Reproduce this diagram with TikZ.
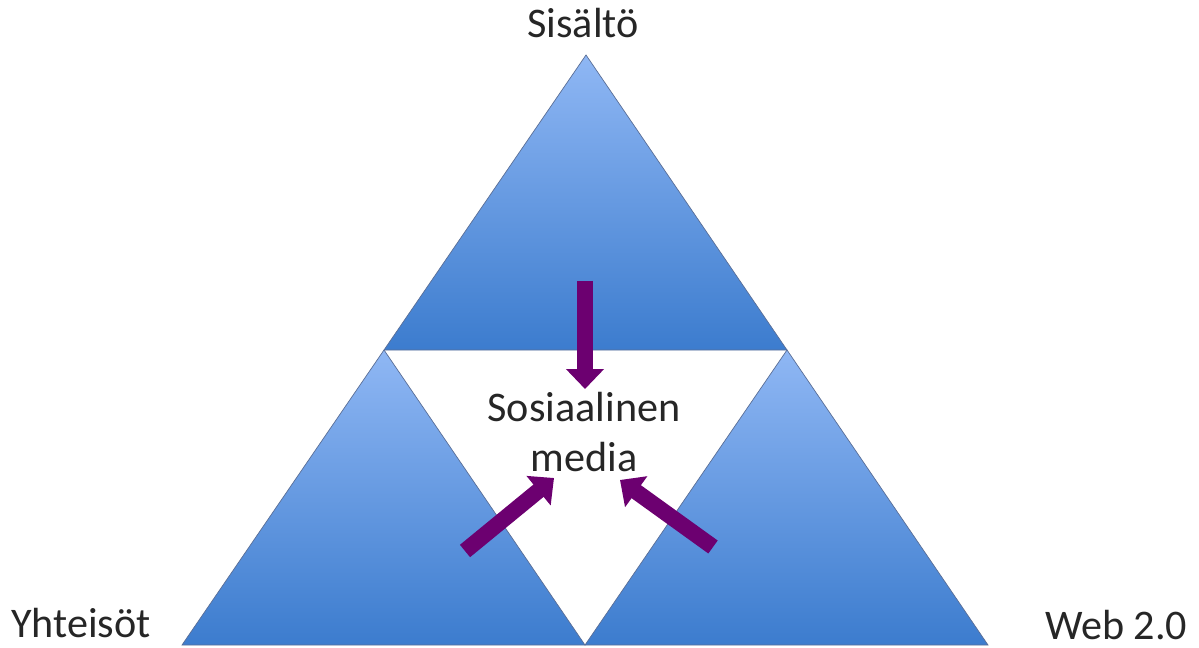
\documentclass[tikz,border=0pt]{standalone}
\usepackage{fontspec}
\setmainfont{Carlito}
\usetikzlibrary{arrows.meta, positioning, calc}

\definecolor{triLight}{RGB}{143,183,244}
\definecolor{triDark}{RGB}{60,124,206}
\definecolor{triEdge}{RGB}{90,110,150}
\definecolor{arrowPurple}{RGB}{108,0,112}

\begin{document}
\begin{tikzpicture}[
		x=0.02cm, y=-0.02cm,
		% Define styles
		tripart/.style={top color=triLight, bottom color=triDark, draw=triEdge, line width=0.4pt},
		cornerlabel/.style={font=\fontsize{24}{26}\selectfont, text=black!85, inner sep=0pt, anchor=base},
		centrelabel/.style={font=\fontsize{24}{24}\selectfont, text=black!85, align=center, inner sep=0pt},
		pusharrow/.style={draw=arrowPurple, line width=0.32cm, -{Triangle[width=0.74cm, length=0.4cm]}}
		]
		\useasboundingbox (0,0) rectangle (1199,648);
		
		% Corner points of the big triangle
		\coordinate (apex) at (586,55);
		\coordinate (baseL) at (182,645);
		\coordinate (baseR) at (988,645);
		\coordinate (midL) at ($(apex)!0.5!(baseL)$);
		\coordinate (midR) at ($(apex)!0.5!(baseR)$);
		\coordinate (midB) at ($(baseL)!0.5!(baseR)$);
		
		% Three blue triangles
		\shade[tripart] (apex) -- (midR) -- (midL) -- cycle;
		\shade[tripart] (midL) -- (midB) -- (baseL) -- cycle;
		\shade[tripart] (midR) -- (baseR) -- (midB) -- cycle;
		
		% Labels
		\node[cornerlabel] (content) at (583,38) {Sisältö};
		\node[cornerlabel] (community) at (81,637) {Yhteisöt};
		\node[cornerlabel] (web) at (1116,639) {Web 2.0};
		\node[centrelabel] (social) at (584,432) {Sosiaalinen\\[4pt]media};
		
		% Arrow ends
		\coordinate (downtail) at (585,281);
		\coordinate (downtip) at (585,389);
		\coordinate (lefttail) at (465,551);
		\coordinate (lefttip) at (554,478);
		\coordinate (righttail) at (713,547);
		\coordinate (righttip) at (620,480);
		
		% Arrows into the centre
		\draw[pusharrow] (downtail) -- (downtip);
		\draw[pusharrow] (lefttail) -- (lefttip);
		\draw[pusharrow] (righttail) -- (righttip);
		
\end{tikzpicture}
\end{document}
